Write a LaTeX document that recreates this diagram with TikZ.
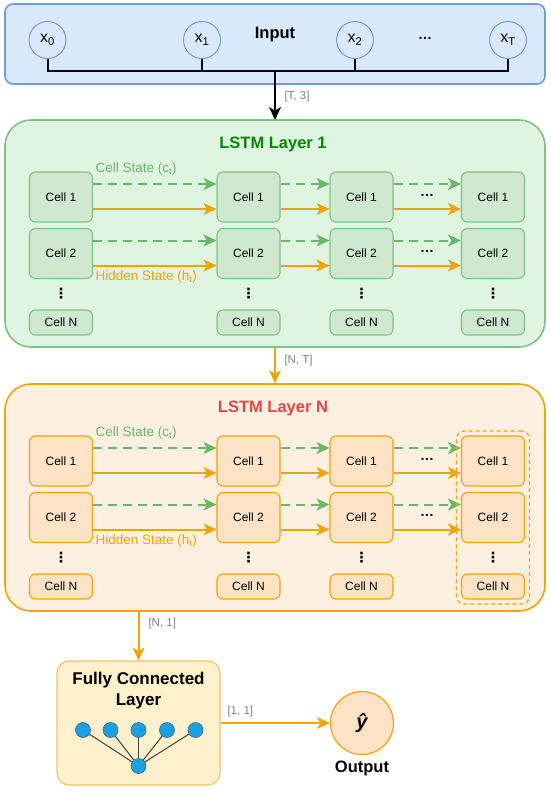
\documentclass[tikz,border=0pt]{standalone}
\usepackage{fontspec}
\setmainfont{Liberation Sans}
\newfontfamily\symfont{DejaVu Sans}
\usetikzlibrary{arrows.meta,fit}

\definecolor{inpfill}{HTML}{DAE8FC}
\definecolor{inpline}{HTML}{6C9EE0}
\definecolor{grnfill}{HTML}{E0F5E1}
\definecolor{grncell}{HTML}{CFE9D1}
\definecolor{grnline}{HTML}{7DC47F}
\definecolor{grnarrow}{HTML}{66B966}
\definecolor{grntitle}{HTML}{008A00}
\definecolor{orgfill}{HTML}{FDF0E0}
\definecolor{orgcell}{HTML}{FDE2C6}
\definecolor{orgline}{HTML}{F0A30A}
\definecolor{redtitle}{HTML}{E04848}
\definecolor{fcfill}{HTML}{FFF1CC}
\definecolor{fcline}{HTML}{F2C25C}
\definecolor{neufill}{HTML}{1BA1E2}
\definecolor{neuline}{HTML}{3D6A8A}

\tikzset{
  tip/.style={-{Stealth[length=13pt,width=12pt,inset=3.5pt]}},
  layerbox/.style={draw, line width=1.6pt, rounded corners=26pt,
    minimum width=540pt, minimum height=227pt},
  cellbox/.style={draw, line width=1.1pt, rounded corners=6pt,
    minimum width=63pt, minimum height=50pt,
    font=\fontsize{12}{14}\selectfont},
  cstate/.style={tip, draw=grnarrow, line width=2pt, dash pattern=on 9pt off 6pt},
  hstate/.style={tip, draw=orgline, line width=2pt},
  lbl/.style={anchor=west, font=\fontsize{13.5}{16}\selectfont},
  dims/.style={anchor=west, text=gray, font=\fontsize{11.5}{14}\selectfont},
  ttl/.style={font=\bfseries\fontsize{16.5}{20}\selectfont},
  hdots/.style={inner sep=0pt, font=\bfseries\fontsize{14}{16}\selectfont},
  vdots/.style={inner sep=0pt, font=\symfont\bfseries\fontsize{14}{16}\selectfont},
  xin/.style={circle, draw=inpline, fill=inpfill, line width=1pt,
    minimum size=37pt, inner sep=0pt, font=\fontsize{16}{18}\selectfont},
  neuron/.style={circle, draw=neuline, fill=neufill, line width=0.6pt,
    minimum size=15pt, inner sep=0pt},
}

\begin{document}
\begin{tikzpicture}[x=1pt,y=-1pt]

\useasboundingbox (0,0) rectangle (550,793);

% Input
\node[draw=inpline, fill=inpfill, line width=1.6pt, rounded corners=8pt,
  minimum width=540pt, minimum height=80pt] (inp) at (275,44) {};
\node[ttl] (inptitle) at (275,35) {Input};
\node[xin] (x0) at (47.5,40) {x\textsubscript{0}};
\node[xin] (x1) at (202,40) {x\textsubscript{1}};
\node[xin] (x2) at (355,40) {x\textsubscript{2}};
\node[xin] (xT) at (508,40) {x\textsubscript{T}};
\node[hdots] (xdots) at (425,38) {…};

\coordinate (bus) at (275,71);
\draw[line width=2pt] (x0.south) |- (bus) -| (xT.south);
\draw[line width=2pt] (x1.south) -- (x1.south |- bus);
\draw[line width=2pt] (x2.south) -- (x2.south |- bus);
\draw[line width=2pt, tip] (bus) -- (275,120);
\node[dims] (d1) at (281,97) {[T, 3]};

% LSTM Layer 1
\node[layerbox, draw=grnline, fill=grnfill] (lay1) at (275,233.5) {};
\node[ttl, text=grntitle] (t1) at (273,144) {LSTM Layer 1};

\foreach \c/\x in {1/61,2/248.5,3/361.5,4/493}{
  \node[cellbox, draw=grnline, fill=grncell] (a\c1) at (\x,197) {Cell 1};
  \node[cellbox, draw=grnline, fill=grncell] (a\c2) at (\x,253.5) {Cell 2};
  \node[cellbox, draw=grnline, fill=grncell, minimum height=25pt] (a\c N) at (\x,322.5) {Cell N};
  \node[vdots] (av\c) at (\x,294) {⋮};
}
\foreach \c/\d in {1/2,2/3,3/4}{
  \foreach \r in {1,2}{
    \draw[cstate] ([yshift=13pt]a\c\r.east) -- ([yshift=13pt]a\d\r.west);
    \draw[hstate] ([yshift=-12pt]a\c\r.east) -- ([yshift=-12pt]a\d\r.west);
  }
}
\node[hdots] (ah1) at (427,195) {…};
\node[hdots] (ah2) at (427,251.5) {…};
\node[lbl, text=grnarrow] (cs1) at (92,169) {Cell State (c\textsubscript{t})};
\node[lbl, text=orgline] (hs1) at (92,277) {Hidden State (h\textsubscript{t})};

% LSTM Layer N
\node[layerbox, draw=orgline, fill=orgfill] (layN) at (275,497.5) {};
\node[ttl, text=redtitle] (tN) at (273,408) {LSTM Layer N};

\foreach \c/\x in {1/61,2/248.5,3/361.5,4/493}{
  \node[cellbox, draw=orgline, fill=orgcell] (b\c1) at (\x,461) {Cell 1};
  \node[cellbox, draw=orgline, fill=orgcell] (b\c2) at (\x,517.5) {Cell 2};
  \node[cellbox, draw=orgline, fill=orgcell, minimum height=25pt] (b\c N) at (\x,586.5) {Cell N};
  \node[vdots] (bv\c) at (\x,558) {⋮};
}
\foreach \c/\d in {1/2,2/3,3/4}{
  \foreach \r in {1,2}{
    \draw[cstate] ([yshift=13pt]b\c\r.east) -- ([yshift=13pt]b\d\r.west);
    \draw[hstate] ([yshift=-12pt]b\c\r.east) -- ([yshift=-12pt]b\d\r.west);
  }
}
\node[hdots] (bh1) at (427,459) {…};
\node[hdots] (bh2) at (427,515.5) {…};
\node[lbl, text=grnarrow] (csN) at (92,433) {Cell State (c\textsubscript{t})};
\node[lbl, text=orgline] (hsN) at (92,541) {Hidden State (h\textsubscript{t})};

% last time step
\node[fit=(b41)(b4N), draw=orgline, line width=1.2pt, dash pattern=on 4pt off 3pt,
  rounded corners=8pt, inner sep=4.5pt] (last) {};

\draw[hstate] (lay1.south) -- (layN.north);
\node[dims] (d2) at (281,361) {[N, T]};

% Fully connected
\node[draw=fcline, fill=fcfill, line width=1.1pt, rounded corners=12pt,
  minimum width=163pt, minimum height=124pt] (fc) at (138.5,723) {};
\node[ttl, font=\bfseries\fontsize{17}{21}\selectfont, align=center] (fctitle) at (138.5,691)
  {Fully Connected\\Layer};
\foreach \i/\x in {1/83,2/110.5,3/138.5,4/167,5/195.5}{
  \node[neuron] (n\i) at (\x,730) {};
}
\node[neuron] (nb) at (138.5,766) {};
\foreach \i in {1,...,5}{
  \draw[line width=1pt, draw=black!75] (n\i) -- (nb);
}

\draw[hstate] (fc.north |- layN.south) -- (fc.north);
\node[dims] (d3) at (145,624) {[N, 1]};

% Output
\node[circle, draw=orgline, fill=orgcell, line width=1.2pt, minimum size=63pt,
  font=\bfseries\itshape\fontsize{20}{22}\selectfont] (out) at (362,723) {ŷ};
\node[ttl] (outlbl) at (362,768) {Output};

\draw[hstate] (fc.east) -- (out.west);
\node[dims] (d4) at (224,712) {[1, 1]};

\end{tikzpicture}
\end{document}
